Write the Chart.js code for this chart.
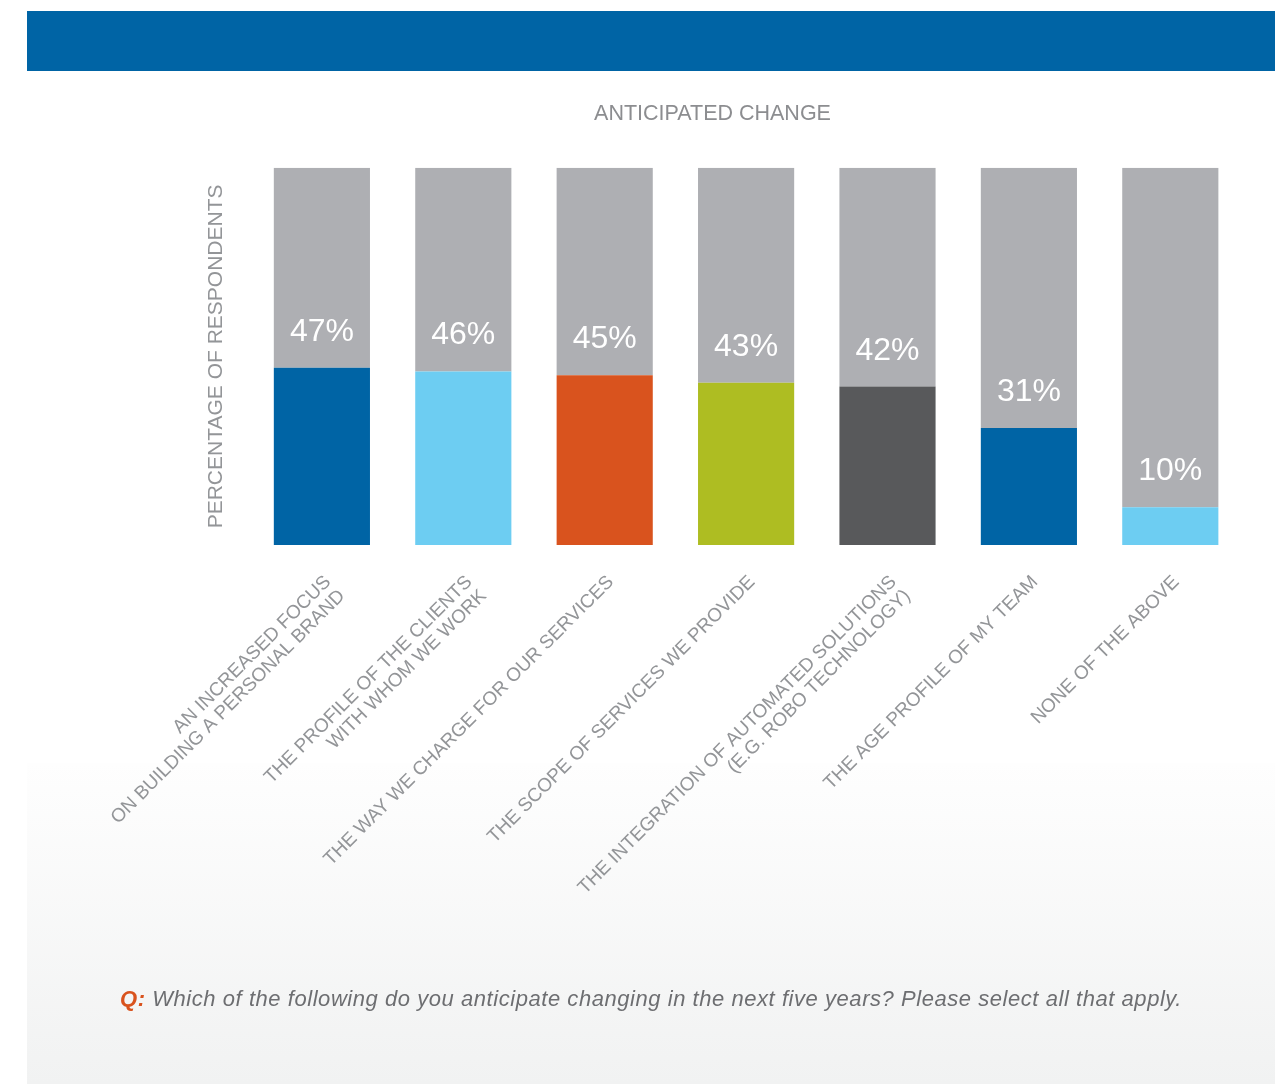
<!DOCTYPE html>
<html>
<head>
<meta charset="utf-8">
<script src="https://cdn.jsdelivr.net/npm/chart.js@4.4.1/dist/chart.umd.min.js"></script>
<style>
  html, body { margin: 0; padding: 0; background: #ffffff; }
  #page { position: relative; width: 1288px; height: 1084px; overflow: hidden; }
  #band { position: absolute; left: 27px; top: 11px; width: 1248px; height: 60px; background: #0064a5; }
  #panel { position: absolute; left: 27px; top: 763px; width: 1248px; height: 321px;
           background: linear-gradient(to bottom, #fefefe 0%, #f1f2f2 100%); }
  #chartBox { position: absolute; left: 0; top: 0; width: 1288px; height: 1084px; }
  #question { position: absolute; left: 27px; top: 987px; width: 1248px; text-align: center;
              font-family: "Liberation Sans", Arial, sans-serif; font-style: italic; font-size: 22px;
              letter-spacing: 0.55px; line-height: 24px; color: #6d6e71; white-space: nowrap; }
  #question b { color: #d9531e; font-weight: bold; }
</style>
</head>
<body>
<div id="page">
  <div id="band"></div>
  <div id="panel"></div>
  <div id="chartBox"><canvas id="chart" width="1288" height="1084"></canvas></div>
  <div id="question"><b>Q:</b> Which of the following do you anticipate changing in the next five years? Please select all that apply.</div>
</div>
<script>
// Survey answers: share of respondents expecting each change
const categories = [
  ["AN INCREASED FOCUS", "ON BUILDING A PERSONAL BRAND"],
  ["THE PROFILE OF THE CLIENTS", "WITH WHOM WE WORK"],
  "THE WAY WE CHARGE FOR OUR SERVICES",
  "THE SCOPE OF SERVICES WE PROVIDE",
  ["THE INTEGRATION OF AUTOMATED SOLUTIONS", "(E.G. ROBO TECHNOLOGY)"],
  "THE AGE PROFILE OF MY TEAM",
  "NONE OF THE ABOVE"
];
const percentages = [47, 46, 45, 43, 42, 31, 10];
const remainders = [53, 54, 55, 57, 58, 69, 90];
const barColors = ["#0064a5", "#6dcdf2", "#d9531e", "#aebd22", "#58595b", "#0064a5", "#6dcdf2"];
const trackColor = "#aeafb3";

const FONT = "'Liberation Sans', Arial, sans-serif";

// White percentage text sitting in the grey track above each coloured bar
const valueLabels = {
  id: "valueLabels",
  afterDatasetsDraw(chart) {
    const ctx = chart.ctx;
    const meta = chart.getDatasetMeta(0);
    ctx.save();
    ctx.fillStyle = "#ffffff";
    ctx.font = "32px " + FONT;
    ctx.textAlign = "center";
    ctx.textBaseline = "alphabetic";
    meta.data.forEach((bar, i) => {
      ctx.fillText(percentages[i] + "%", bar.x, bar.y - 27);
    });
    ctx.restore();
  }
};

new Chart(document.getElementById("chart"), {
  type: "bar",
  data: {
    labels: categories,
    datasets: [
      { data: percentages, backgroundColor: barColors, borderWidth: 0 },
      { data: remainders, backgroundColor: trackColor, borderWidth: 0 }
    ]
  },
  options: {
    responsive: false,
    animation: false,
    events: [],
    layout: { padding: { left: 184, right: 47, top: 80, bottom: 159 } },
    datasets: { bar: { barPercentage: 0.68, categoryPercentage: 1.0 } },
    plugins: {
      legend: { display: false },
      tooltip: { enabled: false },
      title: {
        display: true,
        text: "ANTICIPATED CHANGE",
        color: "#8c8d90",
        font: { family: FONT, size: 21.5, weight: "normal", lineHeight: 1.2 },
        padding: { top: 21, bottom: 41 }
      }
    },
    scales: {
      x: {
        stacked: true,
        grid: { display: false, drawTicks: false },
        border: { display: false },
        ticks: {
          autoSkip: false,
          maxRotation: 45,
          minRotation: 45,
          padding: 27,
          labelOffset: 6,
          color: "#939598",
          font: { family: FONT, size: 19, lineHeight: 1.05 }
        },
        afterFit(scale) { scale.height = 380; }
      },
      y: {
        stacked: true,
        min: 0,
        max: 100,
        grid: { display: false, drawTicks: false },
        border: { display: false },
        ticks: { display: false },
        title: {
          display: true,
          text: "PERCENTAGE OF RESPONDENTS",
          color: "#939598",
          font: { family: FONT, size: 21, lineHeight: 1.2 },
          padding: { top: 20, bottom: 22 }
        }
      }
    }
  },
  plugins: [valueLabels]
});
</script>
</body>
</html>
